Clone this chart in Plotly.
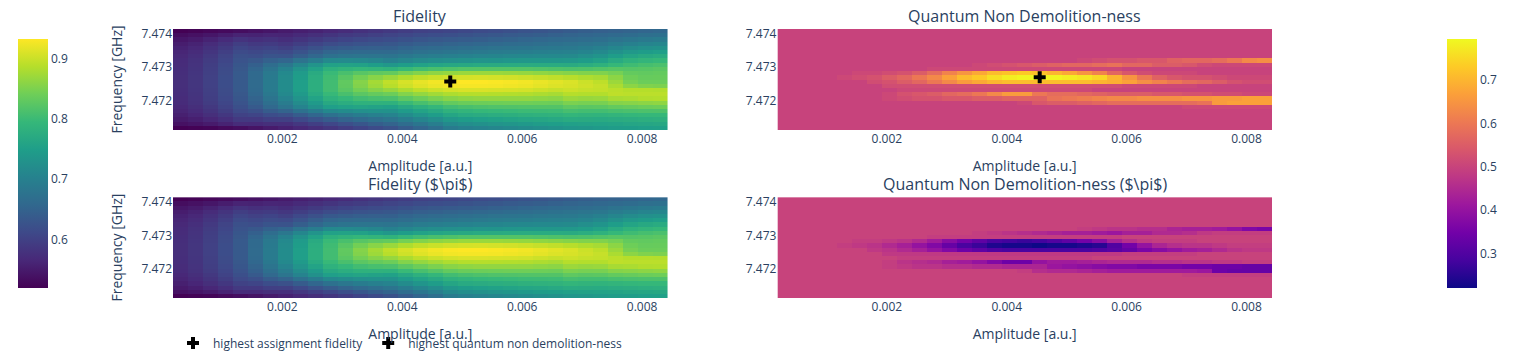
import plotly.graph_objects as go
from plotly.subplots import make_subplots

# ---------------- data ----------------
amplitude = [0.0003, 0.00055, 0.0008, 0.00105, 0.0013, 0.00155, 0.0018, 0.00205, 0.0023, 0.00255,
             0.0028, 0.00305, 0.0033, 0.00355, 0.0038, 0.00405, 0.0043, 0.00455, 0.0048, 0.00505,
             0.0053, 0.00555, 0.0058, 0.00605, 0.0063, 0.00655, 0.0068, 0.00705, 0.0073, 0.00755,
             0.0078, 0.00805, 0.0083]

# frequency rows, listed top (highest) to bottom (lowest)
frequency_ghz = [7.474081, 7.473955, 7.473830, 7.473704, 7.473578, 7.473453, 7.473327, 7.473201,
                 7.473076, 7.472950, 7.472824, 7.472698, 7.472573, 7.472447, 7.472321, 7.472196,
                 7.472070, 7.471944, 7.471819, 7.471693, 7.471567, 7.471441, 7.471316, 7.471190]

# assignment fidelity, one list per amplitude (values top -> bottom in frequency)
fidelity_by_amplitude = [
    [.520, .534, .545, .553, .559, .563, .567, .570, .572, .573, .574, .575, .575, .575, .574, .573, .572, .570, .566, .562, .556, .549, .539, .520],
    [.523, .539, .551, .560, .566, .571, .576, .579, .581, .583, .584, .585, .585, .585, .584, .583, .581, .579, .575, .570, .564, .555, .544, .522],
    [.527, .545, .560, .571, .578, .584, .589, .593, .596, .598, .599, .600, .600, .600, .599, .598, .596, .593, .588, .582, .575, .565, .551, .525],
    [.531, .553, .570, .583, .591, .598, .604, .608, .612, .614, .616, .617, .617, .617, .616, .614, .612, .608, .603, .596, .587, .576, .560, .530],
    [.535, .561, .581, .596, .606, .615, .622, .627, .631, .634, .636, .637, .637, .637, .636, .634, .631, .627, .621, .613, .602, .589, .571, .535],
    [.540, .560, .576, .589, .600, .610, .619, .633, .646, .654, .660, .661, .662, .662, .661, .658, .652, .646, .637, .622, .606, .589, .570, .542],
    [.545, .563, .579, .592, .605, .616, .628, .647, .666, .679, .687, .689, .690, .690, .690, .685, .678, .669, .659, .639, .617, .597, .575, .550],
    [.550, .562, .574, .586, .599, .613, .627, .655, .684, .703, .715, .718, .720, .720, .720, .714, .704, .692, .680, .652, .623, .599, .576, .558],
    [.555, .569, .582, .596, .612, .627, .643, .676, .709, .731, .744, .748, .750, .750, .750, .743, .732, .719, .704, .673, .640, .612, .586, .566],
    [.560, .575, .591, .606, .623, .641, .658, .695, .732, .756, .771, .776, .778, .778, .778, .770, .758, .743, .727, .693, .656, .626, .597, .575],
    [.566, .583, .599, .616, .635, .654, .674, .714, .755, .781, .798, .803, .805, .805, .805, .796, .783, .768, .750, .713, .673, .640, .609, .585],
    [.572, .589, .605, .622, .640, .659, .678, .716, .757, .788, .811, .823, .830, .829, .824, .811, .795, .776, .756, .720, .683, .651, .620, .595],
    [.578, .594, .610, .626, .644, .661, .680, .715, .755, .792, .823, .843, .855, .853, .843, .825, .805, .783, .759, .726, .693, .661, .631, .605],
    [.584, .599, .614, .629, .645, .661, .680, .710, .748, .790, .829, .857, .875, .871, .856, .833, .810, .784, .757, .729, .700, .670, .642, .615],
    [.590, .604, .618, .632, .646, .660, .678, .702, .738, .785, .832, .869, .893, .888, .866, .839, .813, .783, .754, .730, .705, .679, .652, .625],
    [.595, .609, .624, .638, .653, .667, .685, .710, .748, .796, .845, .882, .907, .902, .880, .854, .827, .798, .768, .744, .720, .693, .667, .640],
    [.600, .615, .629, .644, .659, .673, .692, .718, .756, .805, .854, .893, .918, .913, .892, .865, .839, .810, .781, .758, .734, .708, .681, .655],
    [.603, .618, .633, .647, .663, .677, .696, .722, .761, .811, .861, .899, .925, .920, .900, .874, .849, .820, .792, .769, .747, .721, .696, .670],
    [.606, .621, .636, .651, .666, .681, .700, .726, .765, .815, .865, .904, .930, .925, .906, .882, .858, .832, .805, .784, .762, .738, .714, .690],
    [.610, .625, .640, .654, .670, .684, .703, .729, .768, .818, .868, .906, .932, .927, .909, .886, .862, .837, .811, .790, .770, .746, .723, .700],
    [.614, .629, .643, .658, .673, .687, .706, .732, .770, .819, .868, .907, .932, .927, .909, .887, .864, .839, .814, .794, .773, .750, .728, .705],
    [.618, .632, .647, .661, .676, .690, .708, .733, .771, .819, .868, .905, .930, .926, .908, .886, .864, .840, .816, .796, .776, .754, .732, .710],
    [.622, .636, .650, .664, .679, .692, .711, .735, .772, .819, .867, .904, .928, .924, .907, .885, .864, .841, .817, .798, .779, .758, .736, .715],
    [.626, .640, .654, .667, .681, .695, .713, .737, .773, .819, .865, .901, .925, .921, .905, .884, .864, .841, .818, .800, .782, .761, .741, .720],
    [.630, .643, .657, .670, .684, .697, .714, .737, .772, .817, .862, .897, .920, .916, .901, .881, .862, .840, .819, .801, .784, .764, .745, .725],
    [.634, .647, .660, .673, .686, .699, .715, .738, .772, .815, .859, .893, .915, .911, .897, .878, .860, .839, .819, .802, .786, .767, .749, .730],
    [.638, .651, .663, .676, .688, .701, .717, .739, .771, .813, .856, .888, .910, .908, .901, .887, .870, .849, .828, .809, .791, .772, .753, .735],
    [.642, .654, .667, .680, .693, .707, .724, .746, .776, .815, .853, .882, .900, .903, .897, .885, .867, .846, .825, .806, .788, .771, .755, .738],
    [.645, .657, .670, .684, .699, .715, .733, .755, .783, .818, .852, .877, .892, .897, .895, .885, .868, .847, .826, .806, .787, .770, .756, .742],
    [.648, .661, .676, .692, .709, .727, .747, .770, .795, .822, .845, .860, .870, .880, .890, .892, .878, .855, .832, .810, .790, .773, .758, .745],
    [.651, .665, .682, .700, .719, .739, .760, .783, .803, .820, .832, .840, .846, .860, .886, .890, .880, .857, .835, .812, .792, .775, .761, .748],
    [.654, .669, .687, .706, .726, .746, .768, .790, .808, .822, .830, .834, .838, .852, .886, .890, .884, .860, .838, .814, .794, .778, .763, .750],
    [.657, .672, .690, .710, .730, .750, .772, .795, .812, .825, .832, .835, .838, .850, .885, .890, .885, .862, .840, .815, .795, .780, .765, .752],
]
# the pi-pulse fidelity map reads the same as the one above
fidelity_pi_by_amplitude = fidelity_by_amplitude

# quantum non-demolition-ness, one list per frequency row (top -> bottom), 33 amplitudes each
qnd_rows = [
    [0.50] * 33,
    [0.50] * 33,
    [0.50] * 33,
    [0.50] * 33,
    [0.50] * 33,
    [0.50] * 33,
    [0.50] * 33,
    [0.50] * 20 + [.51, .52, .53, .53, .54, .54, .56, .57, .57, .58, .60, .63, .64],
    [0.50] * 13 + [.51, .52, .53, .54, .55, .56, .57, .57, .58, .59, .57, .57, .55, .55, .54, .52, .51, .51, .51, .51],
    [0.50] * 10 + [0.51] * 13 + [0.50] * 10,
    [0.50] * 5 + [.51, .51, .52, .53, .55, .58, .62, .65, .68, .71, .72, .73, .72, .70, .68, .65, .62, .57, .54, .52, .51, .51, .51] + [0.50] * 5,
    [0.50] * 4 + [.51, .52, .53, .55, .57, .60, .63, .67, .71, .73, .76, .78, .79, .795, .79, .78, .77, .75, .70, .65, .60, .56, .54, .53, .53, .52, .51, .51, .51],
    [0.50] * 6 + [.52, .53, .55, .57, .60, .63, .66, .68, .70, .71, .71, .71, .71, .71, .71, .70, .69, .67, .64, .62, .60, .58, .57, .55, .53, .52, .52],
    [0.50] * 7 + [0.52] * 16 + [0.51] * 5 + [0.50] * 5,
    [0.50] * 8 + [0.51] * 13 + [0.50] * 12,
    [0.50] * 7 + [.51, .53, .54, .55, .57, .58, .60, .63, .66, .66, .60, .58, .58, .57, .56, .55, .55, .55, .54, .54, .53, .53, .52, .52, .51, .51],
    [0.50] * 7 + [.51, .52, .53, .53, .54, .54, .55, .55, .56, .56, .56, .59, .60, .61, .62, .63, .63, .64, .64, .64, .65, .65, .66, .66, .67, .67],
    [0.50] * 16 + [.51, .54, .55, .55, .56, .57, .58, .58, .58, .58, .58, .58, .59, .66, .67, .67, .67],
    [0.50] * 27 + [0.51] * 6,
    [0.50] * 33,
    [0.50] * 33,
    [0.50] * 33,
    [0.50] * 33,
    [0.50] * 33,
]

qnd_pi_rows = [
    [0.50] * 33,
    [0.50] * 33,
    [0.50] * 33,
    [0.50] * 33,
    [0.50] * 33,
    [0.50] * 33,
    [0.50] * 33,
    [0.50] * 20 + [.49, .48, .47, .47, .46, .46, .44, .43, .43, .42, .40, .37, .36],
    [0.50] * 13 + [.49, .48, .47, .46, .45, .44, .43, .43, .42, .41, .43, .43, .45, .45, .46, .48, .49, .49, .49, .49],
    [0.50] * 10 + [0.49] * 13 + [0.50] * 10,
    [0.50] * 5 + [.49, .49, .48, .47, .45, .42, .38, .35, .32, .29, .28, .27, .28, .30, .32, .35, .38, .43, .46, .48, .49, .49, .49] + [0.50] * 5,
    [0.50] * 4 + [.49, .48, .47, .45, .43, .40, .37, .33, .29, .27, .24, .23, .23, .22, .23, .23, .24, .25, .30, .35, .40, .44, .46, .47, .47, .48, .49, .49, .49],
    [0.50] * 6 + [.48, .47, .45, .43, .40, .37, .34, .32, .30, .29, .29, .29, .29, .29, .29, .30, .31, .33, .36, .38, .40, .42, .43, .45, .47, .48, .48],
    [0.50] * 7 + [0.48] * 16 + [0.49] * 5 + [0.50] * 5,
    [0.50] * 8 + [0.49] * 13 + [0.50] * 12,
    [0.50] * 7 + [.49, .47, .46, .45, .43, .42, .40, .37, .34, .34, .40, .42, .42, .43, .44, .45, .45, .45, .46, .46, .47, .47, .48, .48, .49, .49],
    [0.50] * 7 + [.49, .48, .47, .47, .46, .46, .45, .45, .44, .44, .44, .41, .40, .39, .38, .37, .37, .36, .36, .36, .35, .35, .34, .34, .33, .33],
    [0.50] * 16 + [.49, .46, .45, .45, .44, .43, .42, .42, .42, .42, .42, .42, .41, .34, .33, .33, .33],
    [0.50] * 27 + [0.49] * 6,
    [0.50] * 33,
    [0.50] * 33,
    [0.50] * 33,
    [0.50] * 33,
    [0.50] * 33,
]

best_fidelity_point = {"amplitude": [0.0048], "frequency": [7.472573]}
best_qnd_point = {"amplitude": [0.00455], "frequency": [7.472698]}

subplot_titles = ["Fidelity", "Quantum Non Demolition-ness",
                  "Fidelity ($\\pi$)", "Quantum Non Demolition-ness ($\\pi$)"]

# ---------------- build ----------------
def by_amplitude_to_rows(cols):
    return [list(r) for r in zip(*cols)]

fid_rows = by_amplitude_to_rows(fidelity_by_amplitude)
fid_pi_rows = by_amplitude_to_rows(fidelity_pi_by_amplitude)

freq_up = frequency_ghz[::-1]

fig = make_subplots(rows=2, cols=2, subplot_titles=subplot_titles,
                    horizontal_spacing=0.1, vertical_spacing=0.25)

fig.add_trace(go.Heatmap(x=amplitude, y=freq_up, z=fid_rows[::-1], coloraxis="coloraxis"), row=1, col=1)
fig.add_trace(go.Heatmap(x=amplitude, y=freq_up, z=qnd_rows[::-1], coloraxis="coloraxis2"), row=1, col=2)
fig.add_trace(go.Heatmap(x=amplitude, y=freq_up, z=fid_pi_rows[::-1], coloraxis="coloraxis"), row=2, col=1)
fig.add_trace(go.Heatmap(x=amplitude, y=freq_up, z=qnd_pi_rows[::-1], coloraxis="coloraxis2"), row=2, col=2)

fig.add_trace(go.Scatter(x=best_fidelity_point["amplitude"], y=best_fidelity_point["frequency"],
                         mode="markers", marker=dict(symbol="cross", color="black", size=10),
                         name="highest assignment fidelity"), row=1, col=1)
fig.add_trace(go.Scatter(x=best_qnd_point["amplitude"], y=best_qnd_point["frequency"],
                         mode="markers", marker=dict(symbol="cross", color="black", size=10),
                         name="highest quantum non demolition-ness"), row=1, col=2)

for r in (1, 2):
    for c in (1, 2):
        fig.update_xaxes(title_text="Amplitude [a.u.]", dtick=0.002, row=r, col=c)
        fig.update_yaxes(dtick=0.001, row=r, col=c)
    fig.update_yaxes(title_text="Frequency [GHz]", row=r, col=1)

fig.update_layout(
    width=1513, height=355,
    margin=dict(l=165, r=249, t=21, b=65, autoexpand=False),
    coloraxis=dict(colorscale="Viridis", colorbar=dict(x=-0.15, xanchor="left", thickness=30)),
    coloraxis2=dict(colorscale="Plasma", colorbar=dict(x=1.15, xanchor="left", thickness=30)),
    legend=dict(orientation="h", x=0, y=-0.113, xanchor="left", yanchor="top"),
    plot_bgcolor="white",
)

fig.write_html("out.html")
